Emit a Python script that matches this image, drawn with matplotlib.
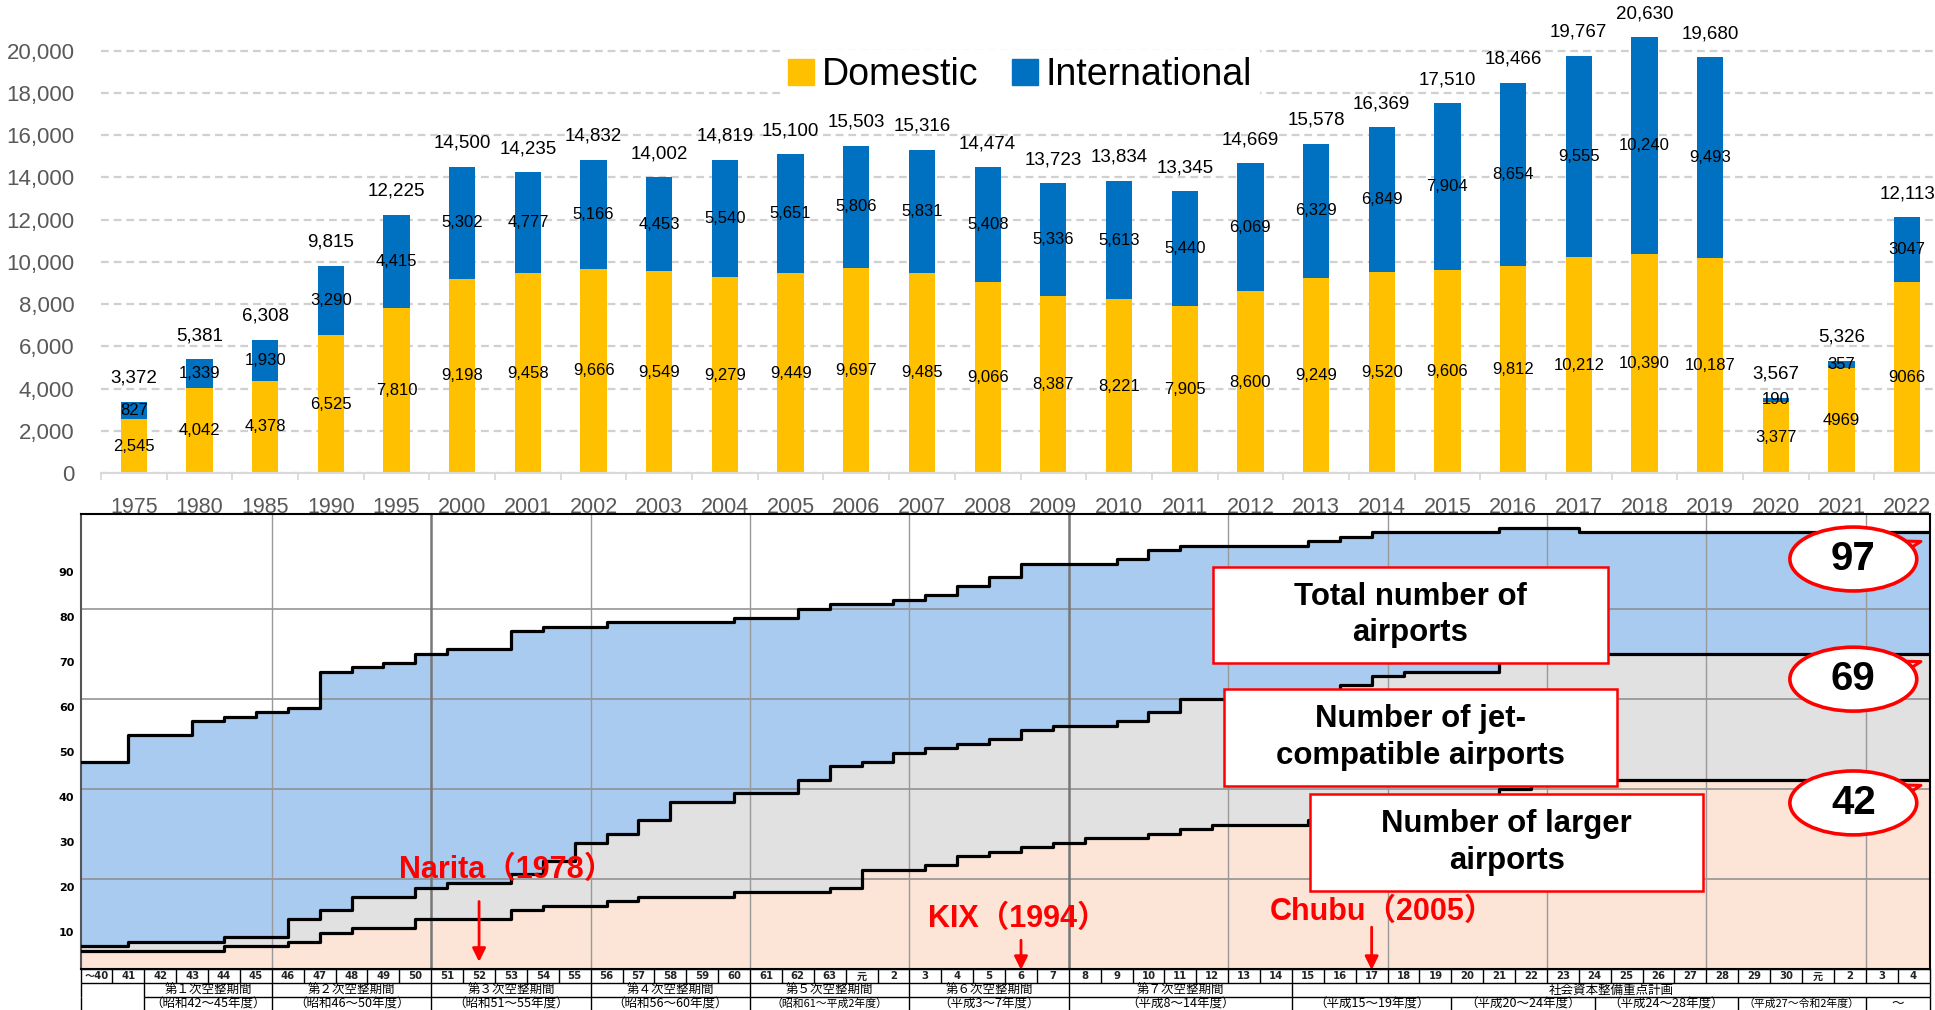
import numpy as np
import matplotlib
matplotlib.use('Agg')
import matplotlib.pyplot as plt
from matplotlib.patches import Patch, Rectangle, Ellipse

plt.rcParams['font.family'] = ['Liberation Sans', 'Noto Sans CJK JP', 'DejaVu Sans']

# ---------------- top chart data ----------------
years = ['1975', '1980', '1985', '1990', '1995', '2000', '2001', '2002', '2003', '2004',
         '2005', '2006', '2007', '2008', '2009', '2010', '2011', '2012', '2013', '2014',
         '2015', '2016', '2017', '2018', '2019', '2020', '2021', '2022']
domestic = [2545, 4042, 4378, 6525, 7810, 9198, 9458, 9666, 9549, 9279,
            9449, 9697, 9485, 9066, 8387, 8221, 7905, 8600, 9249, 9520,
            9606, 9812, 10212, 10390, 10187, 3377, 4969, 9066]
international = [827, 1339, 1930, 3290, 4415, 5302, 4777, 5166, 4453, 5540,
                 5651, 5806, 5831, 5408, 5336, 5613, 5440, 6069, 6329, 6849,
                 7904, 8654, 9555, 10240, 9493, 190, 357, 3047]
plain_domestic_years = ['2021', '2022']
plain_international_years = ['2022']
top_yticks = [0, 2000, 4000, 6000, 8000, 10000, 12000, 14000, 16000, 18000, 20000]
legend_labels = ['Domestic', 'International']

# ---------------- bottom chart data ----------------
fy_labels = ['～40'] + [str(n) for n in range(41, 64)] + ['元'] + \
            [str(n) for n in range(2, 31)] + ['元', '2', '3', '4']
# step start positions (fiscal-year cell units) and airport counts
total_start = [0, 1.5, 3.5, 4.5, 5.5, 6.5, 7.5, 8.5, 9.5, 10.5, 11.5, 13.5, 14.5, 16.5,
               20.5, 22.5, 23.5, 25.5, 26.5, 27.5, 28.5, 29.5, 32.5, 33.5, 34.5, 38.5,
               39.5, 40.5, 44.5, 47]
total_count = [46, 52, 55, 56, 57, 58, 66, 67, 68, 70, 71, 75, 76, 77,
               78, 80, 81, 82, 83, 85, 87, 90, 91, 93, 94, 95,
               96, 97, 98, 97]
jet_start = [0, 1.5, 4.5, 6.5, 7.5, 8.5, 10.5, 11.5, 13.5, 14.5, 15.5, 16.5, 17.5, 18.5,
             20.5, 22.5, 23.5, 24.5, 25.5, 26.5, 27.5, 28.5, 29.5, 30.5, 32.5, 33.5,
             34.5, 39.5, 40.5, 41.5, 44.5]
jet_count = [5, 6, 7, 11, 13, 16, 18, 19, 21, 24, 28, 30, 33, 37,
             39, 42, 45, 46, 48, 49, 50, 51, 53, 54, 55, 57,
             60, 63, 65, 66, 70]
large_start = [0, 4.5, 6.5, 7.5, 8.5, 10.5, 13.5, 14.5, 16.5, 17.5, 20.5, 23.5, 24.5,
               26.5, 27.5, 28.5, 29.5, 30.5, 31.5, 33.5, 34.5, 35.5, 38.5, 44.5, 45.5]
large_count = [4, 5, 6, 8, 9, 11, 13, 14, 15, 16, 17, 18, 22,
               23, 25, 26, 27, 28, 29, 30, 31, 32, 33, 40, 42]
end_labels = ['97', '69', '42']
box_labels = ['Total number of\nairports', 'Number of jet-\ncompatible airports',
              'Number of larger\nairports']
bottom_yticks = [10, 20, 30, 40, 50, 60, 70, 80, 90]
period_names = ['第１次空整期間', '第２次空整期間', '第３次空整期間', '第４次空整期間',
                '第５次空整期間', '第６次空整期間', '第７次空整期間', '社会資本整備重点計画']
period_bounds = [2, 6, 11, 16, 21, 26, 31, 38, 58]
period_years = ['（昭和42～45年度）', '（昭和46～50年度）', '（昭和51～55年度）',
                '（昭和56～60年度）', '（昭和61～平成2年度）', '（平成3～7年度）',
                '（平成8～14年度）', '（平成15～19年度）', '（平成20～24年度）',
                '（平成24～28年度）', '（平成27～令和2年度）', '～']
period_year_bounds = [2, 6, 11, 16, 21, 26, 31, 38, 43, 47.5, 52, 56, 58]
events = ['Narita（1978）', 'KIX（1994）', 'Chubu（2005）']
event_cell = [12.5, 29.5, 40.5]

# ---------------- figure ----------------
W, H = 1935, 1010
fig = plt.figure(figsize=(W / 100, H / 100), dpi=100)


def px_rect(l, t, r, b):
    return [l / W, 1 - b / H, (r - l) / W, (b - t) / H]


YEL, BLU = '#FFC000', '#0070C0'
ax1 = fig.add_axes(px_rect(101, 0, 1940, 473), zorder=1)
x = np.arange(len(years))
dom = np.array(domestic)
intl = np.array(international)
tot = dom + intl
ax1.bar(x, dom, 0.4, color=YEL, zorder=2)
ax1.bar(x, intl, 0.4, bottom=dom, color=BLU, zorder=2)
ax1.set_xlim(-0.5, len(years) - 0.5)
ax1.set_ylim(0, 22400)
ax1.set_yticks(top_yticks)
ax1.set_yticklabels([f'{v:,}' for v in top_yticks])
ax1.grid(axis='y', color='#D0D0D0', lw=1.6, ls=(0, (3.5, 2.2)), zorder=0)
ax1.set_axisbelow(True)
for s in ['top', 'right', 'left']:
    ax1.spines[s].set_visible(False)
ax1.spines['bottom'].set_color('#D9D9D9')
ax1.spines['bottom'].set_linewidth(1.5)
ax1.tick_params(axis='y', length=0, pad=19, labelsize=16, labelcolor='#595959')
ax1.set_xticks(x)
ax1.set_xticklabels(years)
ax1.tick_params(axis='x', which='major', length=0, pad=17, labelsize=15.5, labelcolor='#595959')
ax1.set_xticks(np.arange(-0.5, len(years)), minor=True)
ax1.tick_params(axis='x', which='minor', length=5, width=1.3, color='#D9D9D9')

for i, yr in enumerate(years):
    ld = str(dom[i]) if yr in plain_domestic_years else f'{dom[i]:,}'
    li = str(intl[i]) if yr in plain_international_years else f'{intl[i]:,}'
    ax1.text(x[i], dom[i] / 2, ld, ha='center', va='center', fontsize=12, zorder=4)
    ax1.text(x[i], dom[i] + intl[i] / 2, li, ha='center', va='center', fontsize=12, zorder=4)
    ax1.annotate(f'{tot[i]:,}', (x[i], tot[i]), xytext=(0, 17), textcoords='offset points',
                 ha='center', va='center', fontsize=13.5, zorder=4)

handles = [Patch(color=YEL), Patch(color=BLU)]
leg = ax1.legend(handles, legend_labels, loc='center', bbox_to_anchor=(1020 / W, 1 - 75 / H),
                 bbox_transform=fig.transFigure, ncol=2, fontsize=27, frameon=True,
                 facecolor='white', edgecolor='none', framealpha=1, handlelength=0.7,
                 handleheight=0.7, handletextpad=0.2, columnspacing=0.9, borderpad=0.2,
                 fancybox=False)
leg.set_zorder(5)

# ---------------- bottom panel ----------------
ax2 = fig.add_axes(px_rect(80.6, 514, 1929.5, 969), zorder=3)
ax2.set_facecolor('white')
NCELL = len(fy_labels)
ax2.set_xlim(0, NCELL)
ax2.set_ylim(0, 101.1)


def ext(xs, vs):
    return np.append(xs, NCELL), np.append(vs, vs[-1])


tx, tv = ext(total_start, total_count)
jx, jv = ext(jet_start, jet_count)
lx, lv = ext(large_start, large_count)
ax2.fill_between(tx, tv, 0, step='post', color='#A9CBEF', lw=0, zorder=1)
ax2.fill_between(jx, jv, 0, step='post', color='#E1E1E1', lw=0, zorder=1.1)
ax2.fill_between(lx, lv, 0, step='post', color='#FCE4D6', lw=0, zorder=1.2)
ax2.hlines([20, 40, 60, 80], 0, NCELL, color='#8C8C8C', lw=1.1, zorder=2)
for b in range(6, NCELL, 5):
    heavy = b in (11, 31)
    ax2.axvline(b, color='#777777' if heavy else '#999999', lw=1.8 if heavy else 1.0, zorder=2)
for xs, vs in [(tx, tv), (jx, jv), (lx, lv)]:
    ax2.step(xs, vs, where='post', color='black', lw=2.3, zorder=3)

ax2.set_xticks([])
ax2.set_yticks([v - 1.7 for v in bottom_yticks])
ax2.set_yticklabels([str(v) for v in bottom_yticks])
ax2.tick_params(axis='y', length=0, pad=4.5, labelsize=8)
for lab in ax2.get_yticklabels():
    lab.set_fontweight('bold')
    lab.set_family(['DejaVu Sans'])
for s in ['top', 'right', 'bottom']:
    ax2.spines[s].set_color('black')
    ax2.spines[s].set_linewidth(1.5)
ax2.spines['left'].set_color('#555555')
ax2.spines['left'].set_linewidth(1.5)

# text boxes
boxes = [(35.53, 68.0, 47.90, 89.4), (35.86, 40.7, 48.2, 62.2), (38.57, 17.4, 50.9, 38.9)]
for (x0, y0, x1, y1), lab in zip(boxes, box_labels):
    ax2.add_patch(Rectangle((x0, y0), x1 - x0, y1 - y0, facecolor='white',
                            edgecolor='#FF0000', lw=1.8, zorder=5))
    ax2.text((x0 + x1) / 2, (y0 + y1) / 2, lab, ha='center', va='center', fontsize=22.4,
             fontweight='bold', linespacing=1.28, zorder=6)

# ellipses with end values (speech-bubble style)
ecx, ew, eh = 55.61, 3.98, 14.2
for cy, lab in zip([91.1, 64.4, 36.9], end_labels):
    a, b = ew / 2, eh / 2
    th1, th2 = np.radians(22), np.radians(34)
    ax2.plot([ecx + a * np.cos(th1), ecx + 2.12, ecx + a * np.cos(th2)],
             [cy + b * np.sin(th1), cy + 3.9, cy + b * np.sin(th2)],
             color='#FF0000', lw=2.2, zorder=5.9, clip_on=False, solid_joinstyle='round',
             solid_capstyle='round')
    ax2.add_patch(Ellipse((ecx, cy), ew, eh, facecolor='white', edgecolor='#FF0000',
                          lw=2.6, zorder=6, clip_on=False))
    ax2.text(ecx, cy, lab, ha='center', va='center', fontsize=29, fontweight='bold', zorder=7)

# event annotations
ev_text_pos = [(13.35, 22.0), (29.41, 11.2), (40.84, 12.7)]
ev_arrow = [(15.0, 1.6), (6.4, -0.2), (9.3, -0.2)]
for lab, cx, (tx_, ty_), (a0, a1) in zip(events, event_cell, ev_text_pos, ev_arrow):
    ax2.text(tx_, ty_, lab, ha='center', va='center', fontsize=22, fontweight='bold',
             color='#FF0000', zorder=7)
    ax2.annotate('', xy=(cx, a1), xytext=(cx, a0),
                 arrowprops=dict(arrowstyle='-|>', color='#FF0000', lw=2.0,
                                 mutation_scale=20, shrinkA=0, shrinkB=0),
                 zorder=7, annotation_clip=False)

# ---------------- fiscal-year table ----------------
ax3 = fig.add_axes(px_rect(80.6, 969, 1929.5, 1011), zorder=3)
ax3.set_xlim(0, NCELL)
ax3.set_ylim(0, 3)
ax3.axis('off')
kw = dict(color='black', lw=1.0, clip_on=False)
ax3.hlines([3, 2], 0, NCELL, **kw)
ax3.hlines([1], 2, NCELL, **kw)
ax3.vlines(np.arange(0, NCELL + 1), 2, 3, **kw)
ax3.vlines(period_bounds + [0], 1, 2, **kw)
ax3.vlines(period_year_bounds + [0], 0, 1, **kw)
for i, lab in enumerate(fy_labels):
    ax3.text(i + 0.5, 2.47, lab, ha='center', va='center', fontsize=7.3, fontweight='bold',
             family=['DejaVu Sans', 'Noto Sans CJK JP'], color='#222222')
for i, lab in enumerate(period_names):
    ax3.text((period_bounds[i] + period_bounds[i + 1]) / 2, 1.47, lab, ha='center',
             va='center', fontsize=9, family=['Noto Sans CJK JP', 'DejaVu Sans'])
for i, lab in enumerate(period_years):
    fs = 7.8 if len(lab) > 11 else 9
    ax3.text((period_year_bounds[i] + period_year_bounds[i + 1]) / 2, 0.5, lab,
             ha='center', va='center', fontsize=fs, family=['Noto Sans CJK JP', 'DejaVu Sans'])

fig.savefig('out.png', dpi=100)
